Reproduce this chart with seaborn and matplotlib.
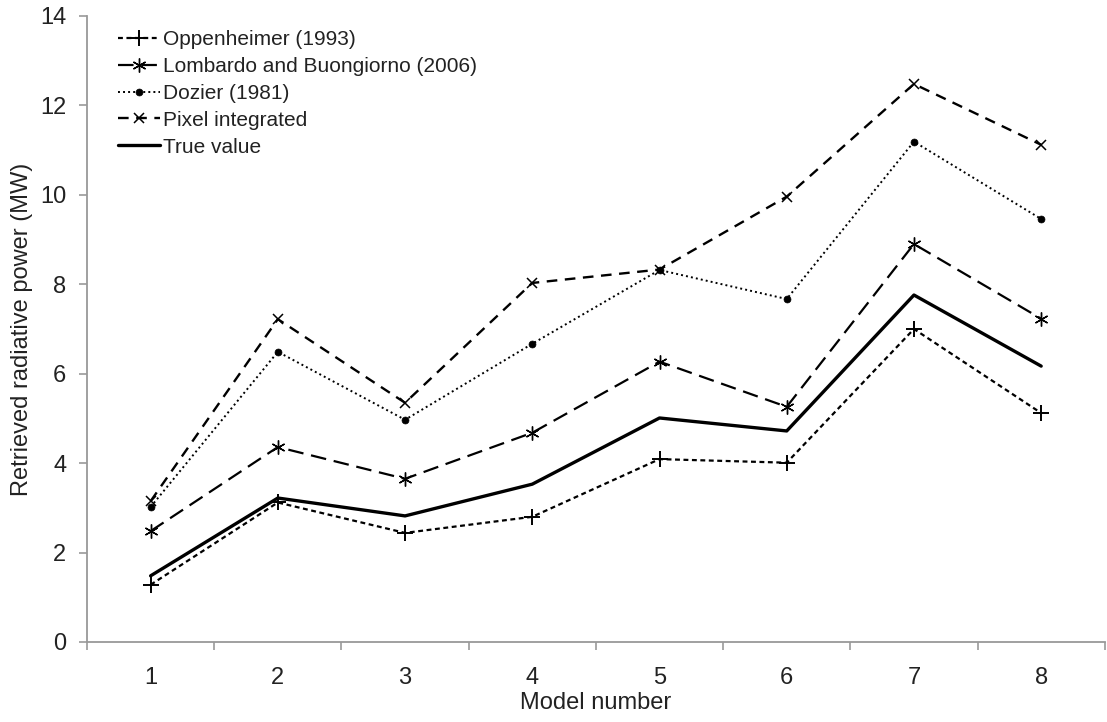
import matplotlib
matplotlib.use("Agg")
import matplotlib.pyplot as plt
import seaborn as sns
import numpy as np
import pandas as pd

models = [1, 2, 3, 4, 5, 6, 7, 8]
oppenheimer = [1.28, 3.12, 2.44, 2.80, 4.09, 4.01, 7.00, 5.12]
lombardo = [2.48, 4.36, 3.65, 4.68, 6.27, 5.26, 8.90, 7.23]
dozier = [3.02, 6.49, 4.97, 6.67, 8.32, 7.67, 11.19, 9.46]
pixel = [3.15, 7.22, 5.35, 8.03, 8.33, 9.96, 12.48, 11.12]
true_value = [1.48, 3.22, 2.82, 3.53, 5.01, 4.72, 7.76, 6.17]

labels = ["Oppenheimer (1993)", "Lombardo and Buongiorno (2006)",
          "Dozier (1981)", "Pixel integrated", "True value"]
yticks = [0, 2, 4, 6, 8, 10, 12, 14]

sns.set_style("white")
plt.rcParams['font.family'] = ['Liberation Sans', 'DejaVu Sans']

fig = plt.figure(figsize=(11.07, 7.22), dpi=100)
ax = fig.add_axes([87/1107, 1 - 642/722, 1 - 87/1107 - 0.002, (642 - 16)/722])

series = [oppenheimer, lombardo, dozier, pixel, true_value]
styles = [
    dict(linestyle=(0, (2.2, 1.6)), lw=1.6, marker='+', markersize=11, markeredgewidth=1.4),
    dict(linestyle=(0, (7, 3.5)), lw=1.6, marker=(6, 2, 0), markersize=10, markeredgewidth=1.0),
    dict(linestyle=(0, (1, 1.6)), lw=1.4, marker='o', markersize=5, markeredgewidth=0.5),
    dict(linestyle=(0, (4.5, 3.2)), lw=1.7, marker='x', markersize=7, markeredgewidth=1.1),
    dict(linestyle='-', lw=2.4, marker=None),
]
for vals, lab, st in zip(series, labels, styles):
    df = pd.DataFrame({"Model": models, "Power": vals})
    sns.lineplot(data=df, x="Model", y="Power", ax=ax, color='black', label=lab,
                 markeredgecolor='black', markerfacecolor='black', **st)

ax.set_xlim(0.5, 8.5)
ax.set_ylim(0, 14)
ax.set_yticks(yticks)
ax.set_xticks(models)
ax.set_xticks(np.arange(0.5, 9.0, 1.0), minor=True)
ax.tick_params(which='both', bottom=True, left=True)
ax.tick_params(axis='x', which='major', length=0, pad=18, labelsize=17, colors='#222222')
ax.tick_params(axis='x', which='minor', length=6, width=1.2, color='#999999', direction='out')
ax.tick_params(axis='y', which='major', length=6, width=1.2, color='#999999', direction='out',
               pad=9, labelsize=17, labelcolor='#222222')
for s in ['top', 'right']:
    ax.spines[s].set_visible(False)
for s in ['left', 'bottom']:
    ax.spines[s].set_color('#999999')
    ax.spines[s].set_linewidth(1.3)

ax.set_xlabel("Model number", fontsize=17, color='#222222', labelpad=2)
ax.set_ylabel("Retrieved radiative power (MW)", fontsize=17, color='#222222', labelpad=5)

leg = ax.legend(loc='upper left', bbox_to_anchor=(118/1107, 1 - 30/722),
                bbox_transform=fig.transFigure, frameon=False, fontsize=15,
                handlelength=2.0, handletextpad=0.15, labelspacing=0.38,
                borderaxespad=0, borderpad=0, numpoints=1)
for t in leg.get_texts():
    t.set_color('#222222')

fig.savefig("out.png", dpi=100)
